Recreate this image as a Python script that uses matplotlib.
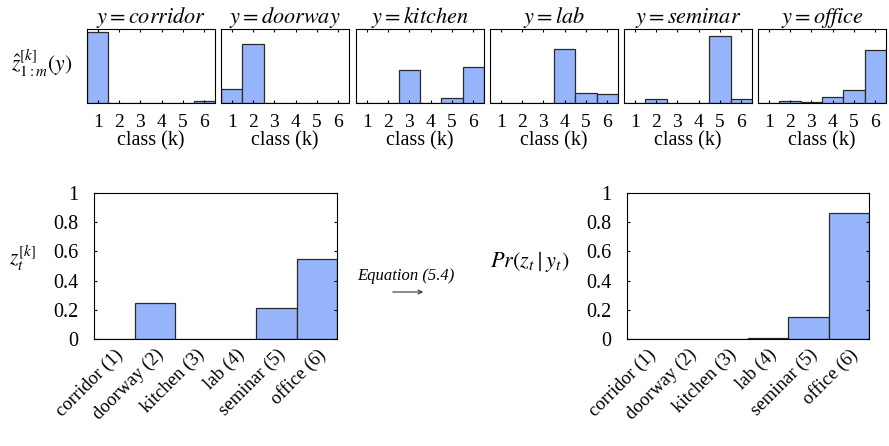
import numpy as np
import matplotlib
matplotlib.use("Agg")
import matplotlib.pyplot as plt
from matplotlib.transforms import ScaledTranslation
from matplotlib.patches import FancyArrowPatch

plt.rcParams['font.family'] = ['Liberation Serif', 'DejaVu Serif']
plt.rcParams['mathtext.fontset'] = 'stix'

# ----------------------------------------------------------------------
# datos
# ----------------------------------------------------------------------
places = ["corridor", "doorway", "kitchen", "lab", "seminar", "office"]
classes = [1, 2, 3, 4, 5, 6]
tick_names = ["corridor (1)", "doorway (2)", "kitchen (3)", "lab (4)", "seminar (5)", "office (6)"]

z_corridor = [0.96, 0.004, 0.003, 0.004, 0.003, 0.03]
z_doorway = [0.19, 0.80, 0.003, 0.003, 0.004, 0.005]
z_kitchen = [0.003, 0.003, 0.44, 0.004, 0.07, 0.48]
z_lab = [0.003, 0.003, 0.003, 0.73, 0.14, 0.12]
z_seminar = [0.003, 0.05, 0.003, 0.002, 0.90, 0.055]
z_office = [0.003, 0.03, 0.01, 0.08, 0.17, 0.71]
z_hat = [z_corridor, z_doorway, z_kitchen, z_lab, z_seminar, z_office]

z_t = [0.002, 0.25, 0.002, 0.001, 0.21, 0.55]
pr_z_y = [0.001, 0.001, 0.001, 0.005, 0.15, 0.86]

W, H = 889, 446
FACE = '#96b4fa'; EDGE = '#2a2a2a'

fig = plt.figure(figsize=(W/100, H/100), dpi=100)

def px(l, t, r, b):
    return [l/W, 1-b/H, (r-l)/W, (b-t)/H]

# ----------------------------------------------------------------------
# fila superior: z_hat por lugar
# ----------------------------------------------------------------------
lefts = [87, 221, 356, 490, 624, 758]
for i, (name, vals) in enumerate(zip(places, z_hat)):
    ax = fig.add_axes(px(lefts[i], 29, lefts[i]+128, 103))
    ax.bar(classes, vals, width=1.0, color=FACE, edgecolor=EDGE, lw=0.9)
    ax.set_xlim(0.5, 6.5); ax.set_ylim(0, 1)
    ax.set_xticks(classes)
    ax.set_yticks([])
    ax.tick_params(axis='x', direction='in', top=True, length=2, labelsize=14, pad=8)
    ax.set_xlabel("class (k)", fontsize=14.5, labelpad=0)
    ax.set_title(r"$y = %s$" % name, fontsize=16, pad=4)
fig.text(42/W, 1-63/H, r"$\hat{z}^{[k]}_{1:m}(y)$", fontsize=15.5, ha='center', va='center')

# ----------------------------------------------------------------------
# fila inferior
# ----------------------------------------------------------------------
shift = ScaledTranslation(7/100, -3/100, fig.dpi_scale_trans)

def bottom_panel(rect, vals):
    ax = fig.add_axes(rect)
    ax.bar(classes, vals, width=1.0, color=FACE, edgecolor=EDGE, lw=0.9)
    ax.set_xlim(0.5, 6.5); ax.set_ylim(0, 1)
    ax.set_yticks([0, 0.2, 0.4, 0.6, 0.8, 1])
    ax.set_yticklabels(["0", "0.2", "0.4", "0.6", "0.8", "1"])
    ax.set_xticks(classes)
    ax.set_xticklabels(tick_names, rotation=45, ha='right', rotation_mode='anchor')
    for lb in ax.get_xticklabels():
        lb.set_transform(lb.get_transform() + shift)
    ax.tick_params(axis='y', direction='in', right=True, length=2, labelsize=14.5, pad=11)
    ax.tick_params(axis='x', length=0, labelsize=13.5, pad=5)
    return ax

bottom_panel(px(94, 193, 337, 339), z_t)
fig.text(23/W, 1-258/H, r"$z_t^{[k]}$", fontsize=15.5, ha='center', va='center')

bottom_panel(px(627, 193, 869, 339), pr_z_y)
fig.text(530/W, 1-262/H, r"$Pr(z_t \mid y_t)$", fontsize=16, ha='center', va='center')

# flecha "Equation (5.4)"
fig.text(406/W, 1-276/H, "Equation (5.4)", fontsize=12, style='italic', ha='center', va='center')
fig.add_artist(FancyArrowPatch((390/W, 1-292/H), (426/W, 1-292/H), transform=fig.transFigure,
                               arrowstyle='->', mutation_scale=7, lw=0.8, color='#333333'))

fig.savefig("out.png", dpi=100)
